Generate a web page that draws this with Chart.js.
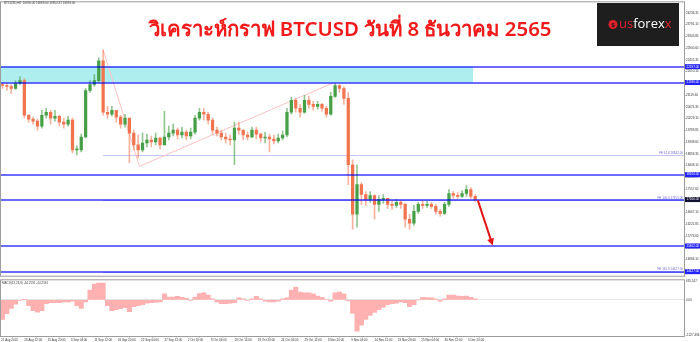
<!DOCTYPE html>
<html>
<head>
<meta charset="utf-8">
<script src="https://cdn.jsdelivr.net/npm/chart.js@4.4.1/dist/chart.umd.min.js"></script>
<style>
  html, body { margin: 0; padding: 0; background: #fff; }
  #wrap { position: relative; width: 700px; height: 342px; overflow: hidden; }
  #main { position: absolute; left: 0; top: 0; }
  #macd { position: absolute; left: 0; top: 278px; }
</style>
</head>
<body>
<div id="wrap">
  <canvas id="main" width="700" height="278"></canvas>
  <canvas id="macd" width="700" height="64"></canvas>
</div>
<script>
// daily candles from 21 Aug 2022 (index 0) to 7 Dec 2022 (index 108)
const firstOpen = 21521;
const closes = [
  21483, 21446, 21371, 21558, 21671, 20357, 20207, 20131, 19944, 20357,
  20469, 20244, 20319, 20094, 20019, 20169, 19042, 19042, 19531, 21295,
  21521, 21671, 22422, 20469, 20394, 20544, 20282, 20019, 20244, 19681,
  19230, 19042, 19305, 19418, 19343, 19493, 19230, 19531, 19681, 19793,
  19606, 19718, 19568, 19718, 20244, 20469, 20394, 20169, 19793, 19681,
  19531, 19456, 19418, 19869, 19793, 19606, 19531, 19793, 19643, 19493,
  19531, 19456, 19380, 19493, 19606, 20469, 20920, 20620, 20469, 20920,
  20770, 20695, 20770, 20620, 20394, 21070, 21483, 21371, 20995, 18479,
  16602, 17728, 17353, 17165, 17315, 16977, 17165, 17203, 16977, 16940,
  17052, 16977, 16414, 16264, 16714, 16977, 16940, 16977, 16902, 16714,
  16639, 16977, 17390, 17315, 17278, 17390, 17540, 17278, 17165
];
const highs = [
  21596, 21558, 21521, 21671, 21821, 21746, 20394, 20282, 20207, 20544,
  20620, 20544, 20544, 20357, 20244, 20319, 20244, 19193, 19643, 21371,
  21671, 21896, 22535, 22835, 20695, 20695, 20544, 20357, 20394, 20244,
  19793, 19606, 19681, 19643, 19568, 19681, 19531, 20507, 19944, 20019,
  19869, 19906, 19793, 19869, 20357, 20620, 20620, 20469, 20244, 19906,
  19793, 19681, 19606, 20094, 20094, 19793, 19718, 19906, 19906, 19681,
  19718, 19643, 19606, 19643, 19756, 20620, 21033, 20995, 20770, 21108,
  21070, 20882, 20882, 20807, 20695, 21220, 21558, 21521, 21446, 21220,
  18667, 18479, 17803, 17465, 17465, 17353, 17315, 17353, 17165, 17090,
  17165, 17127, 17015, 16602, 16940, 17052, 17090, 17090, 17052, 16977,
  16789, 17052, 17540, 17465, 17428, 17503, 17691, 17616, 17353
];
const lows = [
  21371, 21295, 21183, 21333, 21521, 20244, 20094, 20019, 19793, 19869,
  20244, 20019, 20131, 19944, 19869, 19944, 18930, 18855, 18967, 19493,
  21220, 21446, 21596, 20357, 20244, 20319, 20094, 19869, 19906, 18554,
  19042, 18742, 18967, 19155, 19155, 19230, 19080, 19230, 19418, 19568,
  19456, 19493, 19418, 19456, 19643, 20169, 20169, 20019, 19643, 19568,
  19418, 19305, 19230, 18479, 19643, 19418, 19418, 19493, 19456, 19343,
  19305, 18967, 19268, 19305, 19418, 19531, 20394, 20469, 20282, 20432,
  20620, 20544, 20582, 20507, 20282, 20357, 21033, 21220, 20770, 17728,
  16038, 16114, 16977, 16940, 17052, 16414, 16714, 17015, 16827, 16789,
  16865, 16827, 16114, 16038, 16189, 16639, 16827, 16865, 16827, 16602,
  16527, 16600, 16902, 17203, 17203, 17240, 17278, 17203, 17090
];
const macdHist = [
  -680, -480, -300, -150, -20, 15, -205, -375, -425, -375,
  -135, -100, -100, -100, -70, -70, -50, -205, -295, -70,
  340, 545, 580, 580, -205, -375, -340, -305, -270, -410,
  -240, -205, -170, -120, -100, -85, -70, 205, 100, 100,
  120, 85, 50, -15, 100, 220, 240, 170, 35, -70,
  -135, -135, -120, -100, 70, 35, -15, 35, 120, 35,
  -50, -70, -70, -50, 35, 70, 340, 440, 270, 240,
  240, 205, 135, 85, 15, -50, 240, 270, 205, -35,
  -475, -1090, -885, -680, -545, -440, -340, -255, -170, -135,
  -120, -70, -100, -240, -170, 0, 85, 80, 70, 35,
  -50, 35, 170, 170, 135, 120, 135, 85, 35
];

const priceTicks = [
  24236.35, 23791.10, 23345.85, 22900.60, 22455.35, 22010.10, 21564.85, 21119.60,
  20674.35, 20229.10, 19783.85, 19338.60, 18893.35, 18448.10, 18002.85, 17557.60,
  17112.35, 16667.10, 16221.85, 15776.60, 15331.35, 14886.10, 14440.85
];
const macdTicks = [635.547, 0, -1227.494];
const timeLabels = [
  '21 Aug 2022', '26 Aug 12:00', '31 Aug 20:00', '6 Sep 04:00', '11 Sep 12:00',
  '16 Sep 20:00', '22 Sep 04:00', '27 Sep 12:00', '2 Oct 20:00', '8 Oct 04:00',
  '13 Oct 12:00', '18 Oct 20:00', '24 Oct 04:00', '29 Oct 12:00', '3 Nov 20:00',
  '9 Nov 04:00', '14 Nov 12:00', '19 Nov 20:00', '25 Nov 04:00', '30 Nov 12:00',
  '5 Dec 20:00'
];

// drawn objects, in price / day units
const levels = [22197, 21596, 18104, 17160, 15402, 14427];
const levelFills = ['#2222ff', '#2222ff', '#2222ff', '#111133', '#2222ff', '#2222ff'];
const zonePrices = [21596, 22197];
const zoneEndDay = 108;
const fibDays = [23.5, 31.8, 75.9];
const fibPrices = [22835, 18420, 21570];
const feNames = ['FE 61.8', 'FE 100.0', 'FE 161.8'];
const feValues = [18842, 17155, 14427];
const arrowDays = [109.1, 112.5];
const arrowPrices = [17130, 15420];

const title = 'วิเคราะห์กราฟ BTCUSD วันที่ 8 ธันวาคม 2565';
const header = 'BTCUSD,H4  16859.00 16869.00 16854.31 16859.00';
const macdHeader = 'MACD(12,26,9) -44.2591 -44.2591';

const xMin = 1 / 6;   // 21 Aug 04:00
const xMax = 156.2;
const tickStep = 16 / 3; // 32 bars of H4

const bull = '#47a047', bear = '#f2744e';
const opens = closes.map((c, i) => i === 0 ? firstOpen : closes[i - 1]);
const candleColors = closes.map((c, i) => c >= opens[i] ? bull : bear);
const wickColors = closes.map((c, i) => c >= opens[i] ? 'rgba(71,160,71,0.6)' : 'rgba(242,116,78,0.55)');

const tinyFont = { family: 'Liberation Sans', size: 3 };

const overlay = {
  id: 'overlay',
  beforeDatasetsDraw(chart) {
    const { ctx, chartArea: a, scales: { x, y } } = chart;
    ctx.save();
    ctx.beginPath();
    ctx.rect(a.left, a.top, a.right - a.left, a.bottom - a.top);
    ctx.clip();
    // pale zone
    const z1 = y.getPixelForValue(zonePrices[1]), z2 = y.getPixelForValue(zonePrices[0]);
    ctx.fillStyle = '#afeeee';
    ctx.fillRect(a.left, z1, x.getPixelForValue(zoneEndDay) - a.left, z2 - z1);
    // fib expansion levels
    ctx.strokeStyle = '#c6c6f6';
    ctx.lineWidth = 1;
    feValues.forEach(v => {
      const py = Math.round(y.getPixelForValue(v)) + 0.5;
      ctx.beginPath();
      ctx.moveTo(x.getPixelForValue(fibDays[0]), py);
      ctx.lineTo(a.right, py);
      ctx.stroke();
    });
    // fib expansion path
    ctx.strokeStyle = '#ffc2c2';
    ctx.beginPath();
    fibDays.forEach((d, i) => {
      const px = x.getPixelForValue(d), py = y.getPixelForValue(fibPrices[i]);
      if (i) ctx.lineTo(px, py); else ctx.moveTo(px, py);
    });
    ctx.stroke();
    ctx.restore();
  },
  afterDatasetsDraw(chart) {
    const { ctx, chartArea: a, scales: { x, y } } = chart;
    ctx.save();
    // support / resistance lines
    ctx.strokeStyle = 'rgba(0,0,255,0.58)';
    ctx.lineWidth = 2;
    levels.forEach(v => {
      const py = Math.round(y.getPixelForValue(v));
      ctx.beginPath();
      ctx.moveTo(a.left, py);
      ctx.lineTo(a.right, py);
      ctx.stroke();
    });
    // FE labels
    ctx.fillStyle = '#6a6ad8';
    ctx.font = '3px "Liberation Sans"';
    ctx.textAlign = 'right';
    ctx.textBaseline = 'bottom';
    feValues.forEach((v, i) => {
      ctx.fillText(feNames[i] + ' ' + v.toFixed(2), a.right - 1, y.getPixelForValue(v) - 0.5);
    });
    // red arrow
    const x0 = x.getPixelForValue(arrowDays[0]), y0 = y.getPixelForValue(arrowPrices[0]);
    const x1 = x.getPixelForValue(arrowDays[1]), y1 = y.getPixelForValue(arrowPrices[1]);
    const ang = Math.atan2(y1 - y0, x1 - x0);
    ctx.strokeStyle = '#e41414';
    ctx.fillStyle = '#e41414';
    ctx.lineWidth = 2;
    ctx.beginPath();
    ctx.moveTo(x0, y0);
    ctx.lineTo(x1 - 4 * Math.cos(ang), y1 - 4 * Math.sin(ang));
    ctx.stroke();
    ctx.beginPath();
    ctx.moveTo(x1, y1);
    ctx.lineTo(x1 - 7 * Math.cos(ang) + 3.5 * Math.sin(ang), y1 - 7 * Math.sin(ang) - 3.5 * Math.cos(ang));
    ctx.lineTo(x1 - 7 * Math.cos(ang) - 3.5 * Math.sin(ang), y1 - 7 * Math.sin(ang) + 3.5 * Math.cos(ang));
    ctx.closePath();
    ctx.fill();
    ctx.restore();
  },
  afterDraw(chart) {
    const { ctx, chartArea: a, scales: { y } } = chart;
    ctx.save();
    // frame
    ctx.strokeStyle = '#9c9c9c';
    ctx.lineWidth = 1;
    ctx.strokeRect(a.left - 0.5, a.top - 0.5, a.right - a.left + 1, a.bottom - a.top + 1);
    // price labels of the lines
    ctx.font = '3px "Liberation Sans"';
    ctx.textAlign = 'left';
    ctx.textBaseline = 'middle';
    levels.forEach((v, i) => {
      const py = y.getPixelForValue(v);
      ctx.fillStyle = levelFills[i];
      ctx.fillRect(a.right + 1, py - 2.5, 700 - a.right - 1, 5);
      ctx.fillStyle = '#fff';
      ctx.fillText(v.toFixed(2), a.right + 2.5, py);
    });
    // header text
    ctx.fillStyle = '#444';
    ctx.textBaseline = 'top';
    ctx.fillText(header, 4, 2);
    // title, sized to the width it has in the picture
    let size = 20;
    ctx.font = `600 ${size}px "Noto Sans", sans-serif`;
    size = size * 406 / ctx.measureText(title).width;
    ctx.font = `600 ${size}px "Noto Sans", sans-serif`;
    ctx.fillStyle = '#f21a1a';
    ctx.textAlign = 'center';
    ctx.textBaseline = 'alphabetic';
    ctx.fillText(title, 350, 36);
    // logo
    ctx.fillStyle = '#1e1e1e';
    ctx.fillRect(597, 3, 82, 43);
    ctx.fillStyle = '#e3212b';
    ctx.beginPath();
    ctx.arc(613, 24.5, 4.5, 0, Math.PI * 2);
    ctx.fill();
    ctx.fillStyle = '#1e1e1e';
    ctx.font = 'bold 6px "DejaVu Sans"';
    ctx.textAlign = 'center';
    ctx.textBaseline = 'middle';
    ctx.fillText('$', 613, 25);
    ctx.font = '13px "Open Sans"';
    ctx.textAlign = 'left';
    let lx = 619;
    [['us', '#e3212b'], ['forex', '#ffffff'], ['x', '#e3212b']].forEach(([t, c]) => {
      ctx.fillStyle = c;
      ctx.fillText(t, lx, 24);
      lx += ctx.measureText(t).width;
    });
    ctx.restore();
  }
};

new Chart(document.getElementById('main'), {
  type: 'bar',
  data: {
    datasets: [
      {
        label: 'wick',
        data: closes.map((c, i) => ({ x: i + 0.5, y: [lows[i], highs[i]] })),
        backgroundColor: wickColors,
        barThickness: 1,
        grouped: false,
        order: 2
      },
      {
        label: 'body',
        data: closes.map((c, i) => ({ x: i + 0.5, y: [opens[i], c] })),
        backgroundColor: candleColors,
        barThickness: 2.6,
        minBarLength: 1,
        grouped: false,
        order: 1
      }
    ]
  },
  options: {
    responsive: false,
    animation: false,
    layout: { padding: { left: 1, top: 1, bottom: 1, right: 0 } },
    plugins: { legend: { display: false }, tooltip: { enabled: false } },
    scales: {
      x: { type: 'linear', min: xMin, max: xMax, offset: false, display: false },
      y: {
        position: 'right',
        min: 14274,
        max: 24637,
        afterBuildTicks: s => { s.ticks = priceTicks.map(v => ({ value: v })); },
        afterFit: s => { s.width = 16; },
        border: { display: false },
        grid: { drawOnChartArea: false, tickLength: 1.5, color: '#9c9c9c' },
        ticks: { font: tinyFont, color: '#333', padding: 0.5, callback: v => v.toFixed(2) }
      }
    }
  },
  plugins: [overlay]
});

const macdOverlay = {
  id: 'macdOverlay',
  afterDraw(chart) {
    const { ctx, chartArea: a } = chart;
    ctx.save();
    ctx.strokeStyle = '#9c9c9c';
    ctx.lineWidth = 1;
    ctx.strokeRect(a.left - 0.5, a.top - 0.5, a.right - a.left + 1, a.bottom - a.top + 1);
    ctx.fillStyle = '#444';
    ctx.font = '3px "Liberation Sans"';
    ctx.textBaseline = 'top';
    ctx.fillText(macdHeader, 2, a.top + 1.5);
    ctx.restore();
  }
};

new Chart(document.getElementById('macd'), {
  type: 'bar',
  data: {
    datasets: [{
      label: 'MACD',
      data: macdHist.map((v, i) => ({ x: i + 0.5, y: v })),
      backgroundColor: '#ffb0b0',
      borderWidth: 0,
      barPercentage: 1,
      categoryPercentage: 1
    }]
  },
  options: {
    responsive: false,
    animation: false,
    layout: { padding: { left: 1, top: 1, bottom: 0, right: 0 } },
    plugins: { legend: { display: false }, tooltip: { enabled: false } },
    scales: {
      x: {
        type: 'linear',
        min: xMin,
        max: xMax,
        offset: false,
        afterBuildTicks: s => { s.ticks = timeLabels.map((t, i) => ({ value: xMin + i * tickStep })); },
        afterFit: s => { s.height = 6; },
        border: { display: false },
        grid: { drawOnChartArea: false, tickLength: 1.5, color: '#9c9c9c' },
        ticks: {
          font: tinyFont, color: '#333', padding: 0.5, align: 'start',
          maxRotation: 0, autoSkip: false,
          callback: (v, i) => timeLabels[i]
        }
      },
      y: {
        position: 'right',
        min: -1258,
        max: 680,
        afterBuildTicks: s => { s.ticks = macdTicks.map(v => ({ value: v })); },
        afterFit: s => { s.width = 16; },
        border: { display: false },
        grid: {
          tickLength: 1.5,
          color: ctx => ctx.tick && ctx.tick.value === 0 ? '#e4e4e4' : 'rgba(0,0,0,0)'
        },
        ticks: { font: tinyFont, color: '#333', padding: 0.5, callback: v => v === 0 ? '0.00' : String(v) }
      }
    }
  },
  plugins: [macdOverlay]
});
</script>
</body>
</html>
